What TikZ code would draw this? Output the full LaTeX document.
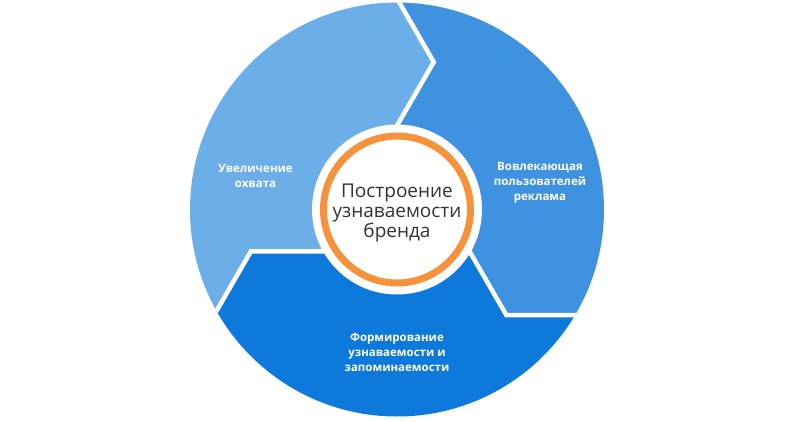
\documentclass[tikz,border=0pt]{standalone}
\usepackage{fontspec}
\setmainfont{Open Sans}
\usetikzlibrary{calc}
\definecolor{reachblue}{RGB}{108,174,232}
\definecolor{engageblue}{RGB}{62,146,224}
\definecolor{brandblue}{RGB}{13,121,218}
\definecolor{hubring}{RGB}{247,146,60}
\definecolor{hubgray}{RGB}{51,51,51}

\begin{document}
\begin{tikzpicture}[x=1pt,y=1pt,
  gap line/.style={draw=white,line width=4.5pt,line join=miter},
  step label/.style={text=white,font=\fontsize{11.5}{15}\selectfont\bfseries,align=center},
  hub label/.style={text=hubgray,font=\fontsize{19}{20}\selectfont,align=center}]
  \useasboundingbox (-397,-211.5) rectangle (398,209.5);
  \coordinate (c) at (0,0);

  % three sectors, one drawn and turned twice
  \begin{scope}
    \clip (c) circle (207);
    \foreach \rot/\col in {0/reachblue,-120/engageblue,120/brandblue}{
      \begin{scope}[rotate=\rot]
        \coordinate (tipA) at (76:152);
        \coordinate (tipB) at (196:152);
        \fill[\col] ($(tipA)+(120:90)$) -- (tipA) -- ($(tipA)+(240:80)$) -- (c)
          -- ($(tipB)+(0:80)$) -- (tipB) -- ($(tipB)+(240:90)$)
          -- (209:300) -- (150:300) -- (89:300) -- cycle;
      \end{scope}
    }
    \foreach \rot in {0,-120,120}{
      \begin{scope}[rotate=\rot]
        \coordinate (tipA) at (76:152);
        \draw[gap line] ($(tipA)+(120:90)$) -- (tipA) -- ($(tipA)+(240:80)$);
      \end{scope}
    }
  \end{scope}

  % hub
  \fill[white] (c) circle (85);
  \draw[hubring,line width=7pt] (c) circle (73.5);

  \node[hub label] (hub) at (0,-3) {Построение\\узнаваемости\\бренда};
  \node[step label] (reach) at (-141.5,34) {Увеличение\\охвата};
  \node[step label] (engage) at (143,26.5) {Вовлекающая\\пользователей\\реклама};
  \node[step label] (recall) at (0,-142.5) {Формирование\\узнаваемости и\\запоминаемости};
\end{tikzpicture}
\end{document}
